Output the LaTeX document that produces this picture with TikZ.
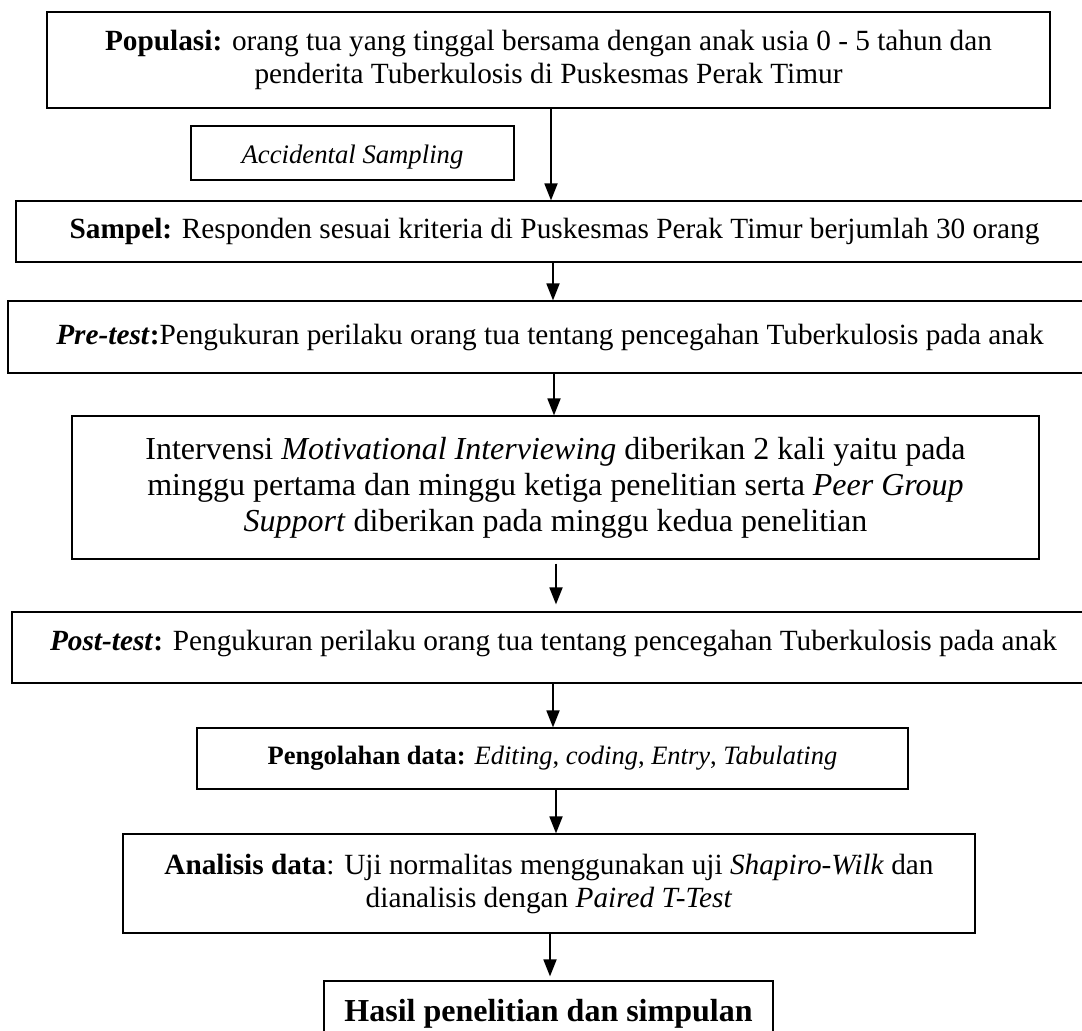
\documentclass[tikz,border=0pt]{standalone}
\usepackage{fontspec}
\setmainfont{Liberation Serif}
\usetikzlibrary{arrows.meta}
\begin{document}
\begin{tikzpicture}[x=1pt,y=-1pt,
  box/.style={draw, line width=1.2pt, align=center, inner sep=0pt},
  arr/.style={line width=1.8pt, -{Triangle[length=17pt,width=13pt]}},
  body/.style={font=\fontsize{29.3}{33.5}\selectfont},
]
\clip (0,0) rectangle (1082,1031);
\fill[white] (0,0) rectangle (1082,1031);

% flow boxes
\node[box, body, minimum width=1003pt, minimum height=96pt]
  (pop) at (548.5,60) {\textbf{Populasi:} orang tua yang tinggal bersama dengan anak usia 0 - 5 tahun dan\\
  penderita Tuberkulosis di Puskesmas Perak Timur};

\node[box, minimum width=323pt, minimum height=54pt, text height=26pt, font=\fontsize{26.7}{30}\selectfont\itshape]
  (acc) at (352.5,153) {Accidental Sampling};

\node[box, body, minimum width=1077pt, minimum height=61pt]
  (sam) at (554.5,231.5) {\textbf{Sampel:} Responden sesuai kriteria di Puskesmas Perak Timur berjumlah 30 orang};

\node[box, body, minimum width=1084pt, minimum height=72pt]
  (pre) at (550,337) {\textbf{\textit{Pre-test}:}Pengukuran perilaku orang tua tentang pencegahan Tuberkulosis pada anak};

\node[box, minimum width=967pt, minimum height=143pt, font=\fontsize{32}{36}\selectfont]
  (int) at (555.5,487.5) {Intervensi \textit{Motivational Interviewing} diberikan 2 kali yaitu pada\\
  minggu pertama dan minggu ketiga penelitian serta \textit{Peer Group}\\
  \textit{Support} diberikan pada minggu kedua penelitian};

\node[box, body, minimum width=1083pt, minimum height=71pt, text depth=14pt]
  (post) at (553.5,647.5) {\textbf{\textit{Post-test}:} Pengukuran perilaku orang tua tentang pencegahan Tuberkulosis pada anak};

\node[box, minimum width=711pt, minimum height=61pt, font=\fontsize{26.5}{30}\selectfont]
  (peng) at (552.5,758.5) {\textbf{Pengolahan data:} \textit{Editing}, \textit{coding}, \textit{Entry}, \textit{Tabulating}};

\node[box, minimum width=852pt, minimum height=99pt, font=\fontsize{29.3}{33}\selectfont]
  (ana) at (549,883.5) {\textbf{Analisis data}: Uji normalitas menggunakan uji \textit{Shapiro-Wilk} dan\\
  dianalisis dengan \textit{Paired T-Test}};

\node[box, minimum width=449pt, minimum height=65pt, font=\fontsize{32}{38}\selectfont\bfseries]
  (has) at (548.5,1013.5) {Hasil penelitian dan simpulan};

% connectors
\draw[arr] ([xshift=2.5pt]pop.south) -- ([xshift=2.5pt]pop.south |- sam.north);
\draw[arr] ([xshift=-1.5pt]sam.south) -- ([xshift=-1.5pt]sam.south |- pre.north);
\draw[arr] ([xshift=4pt]pre.south) -- ([xshift=4pt]pre.south |- int.north);
\draw[arr, shorten >=7pt] ([xshift=0.5pt,yshift=-4pt]int.south) -- ([xshift=0.5pt]int.south |- post.north);
\draw[arr] ([xshift=-0.5pt]post.south) -- ([xshift=-0.5pt]post.south |- peng.north);
\draw[arr] ([xshift=3.5pt]peng.south) -- ([xshift=3.5pt]peng.south |- ana.north);
\draw[arr, shorten >=4pt] ([xshift=1pt]ana.south) -- ([xshift=1pt]ana.south |- has.north);
\end{tikzpicture}
\end{document}
